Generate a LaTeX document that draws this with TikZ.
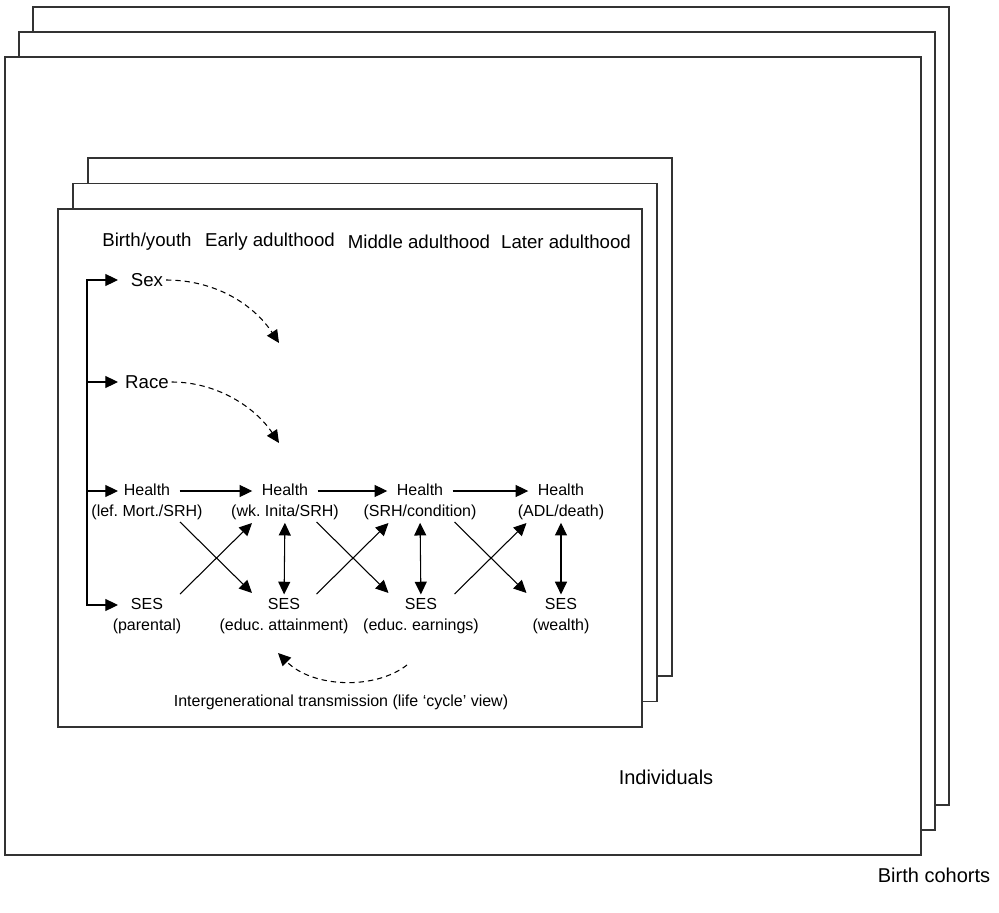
\documentclass[tikz,border=0pt]{standalone}
\usepackage{fontspec}
\setmainfont{Liberation Sans}
\usetikzlibrary{arrows.meta, positioning, calc}
\frenchspacing

\begin{document}
\begin{tikzpicture}[
    x=0.75pt, y=-0.75pt,
    sheet/.style={draw=black!80, line width=1pt, fill=white},
    period/.style={font=\fontsize{14}{16}\selectfont, inner sep=0pt},
    factor/.style={font=\fontsize{14}{16}\selectfont, inner sep=2pt},
    stage/.style={font=\fontsize{12}{14}\selectfont, text height=9pt, text depth=2.5pt, inner sep=2pt},
    caption/.style={font=\fontsize{15}{18}\selectfont, inner sep=0pt},
    arrow/.style={-{Triangle[length=9.5pt,width=9pt]}, line width=0.8pt},
    flow/.style={arrow, shorten <=5pt, shorten >=5pt},
    twoway/.style={{Triangle[length=9.5pt,width=9pt]}-{Triangle[length=9.5pt,width=9pt]}, line width=0.8pt},
    dasharrow/.style={arrow, dash pattern=on 4pt off 3pt}
]
\useasboundingbox (0,0) rectangle (999,913);

% Sheets (cohorts, then individuals)
\foreach \i in {2,1,0}
  \draw[sheet] ($(5,57)+\i*(14,-25)$) rectangle ($(921,855)+\i*(14,-25)$);
\foreach \i in {2,1,0}
  \draw[sheet] ($(58,209)+\i*(15,-25.5)$) rectangle ($(642,727)+\i*(15,-25.5)$);

% Nodes
\node (birth) [period] at (147,242) {Birth/youth};
\node (early) [period] at (270,242) {Early adulthood};
\node (middle) [period] at (419,242) {Middle adulthood};
\node (later) [period] at (566,242) {Later adulthood};

\node (sex) [factor] at (147,280) {Sex};
\node (race) [factor] at (147,382) {Race};

\node (h1) [stage] at (147,491) {Health};
\node (h2) [stage] at (285,491) {Health};
\node (h3) [stage] at (420,491) {Health};
\node (h4) [stage] at (561,491) {Health};
\node (hd1) [stage, below=0pt of h1] {(lef. Mort./SRH)};
\node (hd2) [stage, below=0pt of h2] {(wk. Inita/SRH)};
\node (hd3) [stage, below=0pt of h3] {(SRH/condition)};
\node (hd4) [stage, below=0pt of h4] {(ADL/death)};

\node (s1) [stage] at (147,605) {SES};
\node (s2) [stage] at (284,605) {SES};
\node (s3) [stage] at (421,605) {SES};
\node (s4) [stage] at (561,605) {SES};
\node (sd1) [stage, below=0pt of s1] {(parental)};
\node (sd2) [stage, below=0pt of s2] {(educ. attainment)};
\node (sd3) [stage, below=0pt of s3] {(educ. earnings)};
\node (sd4) [stage, below=0pt of s4] {(wealth)};

\node (inter) [stage] at (341,702) {Intergenerational transmission (life ‘cycle’ view)};
\node (indiv) [caption] at (666,777) {Individuals};
\node (cohort) [caption] at (934,875) {Birth cohorts};

\coordinate (trunk) at (87,280);
\coordinate (tip) at (118,280);
\coordinate (sexend) at (279,343);
\coordinate (raceend) at (279,443);
\coordinate (loopstart) at (407,665);
\coordinate (loopend) at (278,653);

% Paths
\draw[line width=0.8pt, line cap=rect] (trunk) -- (trunk |- s1);
\foreach \n in {sex,race,h1,s1}
  \draw[arrow] (trunk |- \n) -- (tip |- \n);

\foreach \a/\b in {1/2,2/3,3/4} {
  \draw[flow] (h\a) -- (h\b);
  \draw[arrow] ($(h\a)!0.5!(h\b)+(-36,31)$) -- ($(h\a)!0.5!(h\b)+(36,102)$);
  \draw[arrow] ($(h\a)!0.5!(h\b)+(-36,103)$) -- ($(h\a)!0.5!(h\b)+(36,32)$);
  \draw[twoway] (hd\b) -- (s\b);
}

\draw[dasharrow] (sex.east) .. controls +(50,0) and +(-25,-38) .. (sexend);
\draw[dasharrow] (race.east) .. controls +(45,0) and +(-24,-36) .. (raceend);
\draw[dasharrow] (loopstart) .. controls +(-32,25) and +(35,35) .. (loopend);

\end{tikzpicture}
\end{document}
